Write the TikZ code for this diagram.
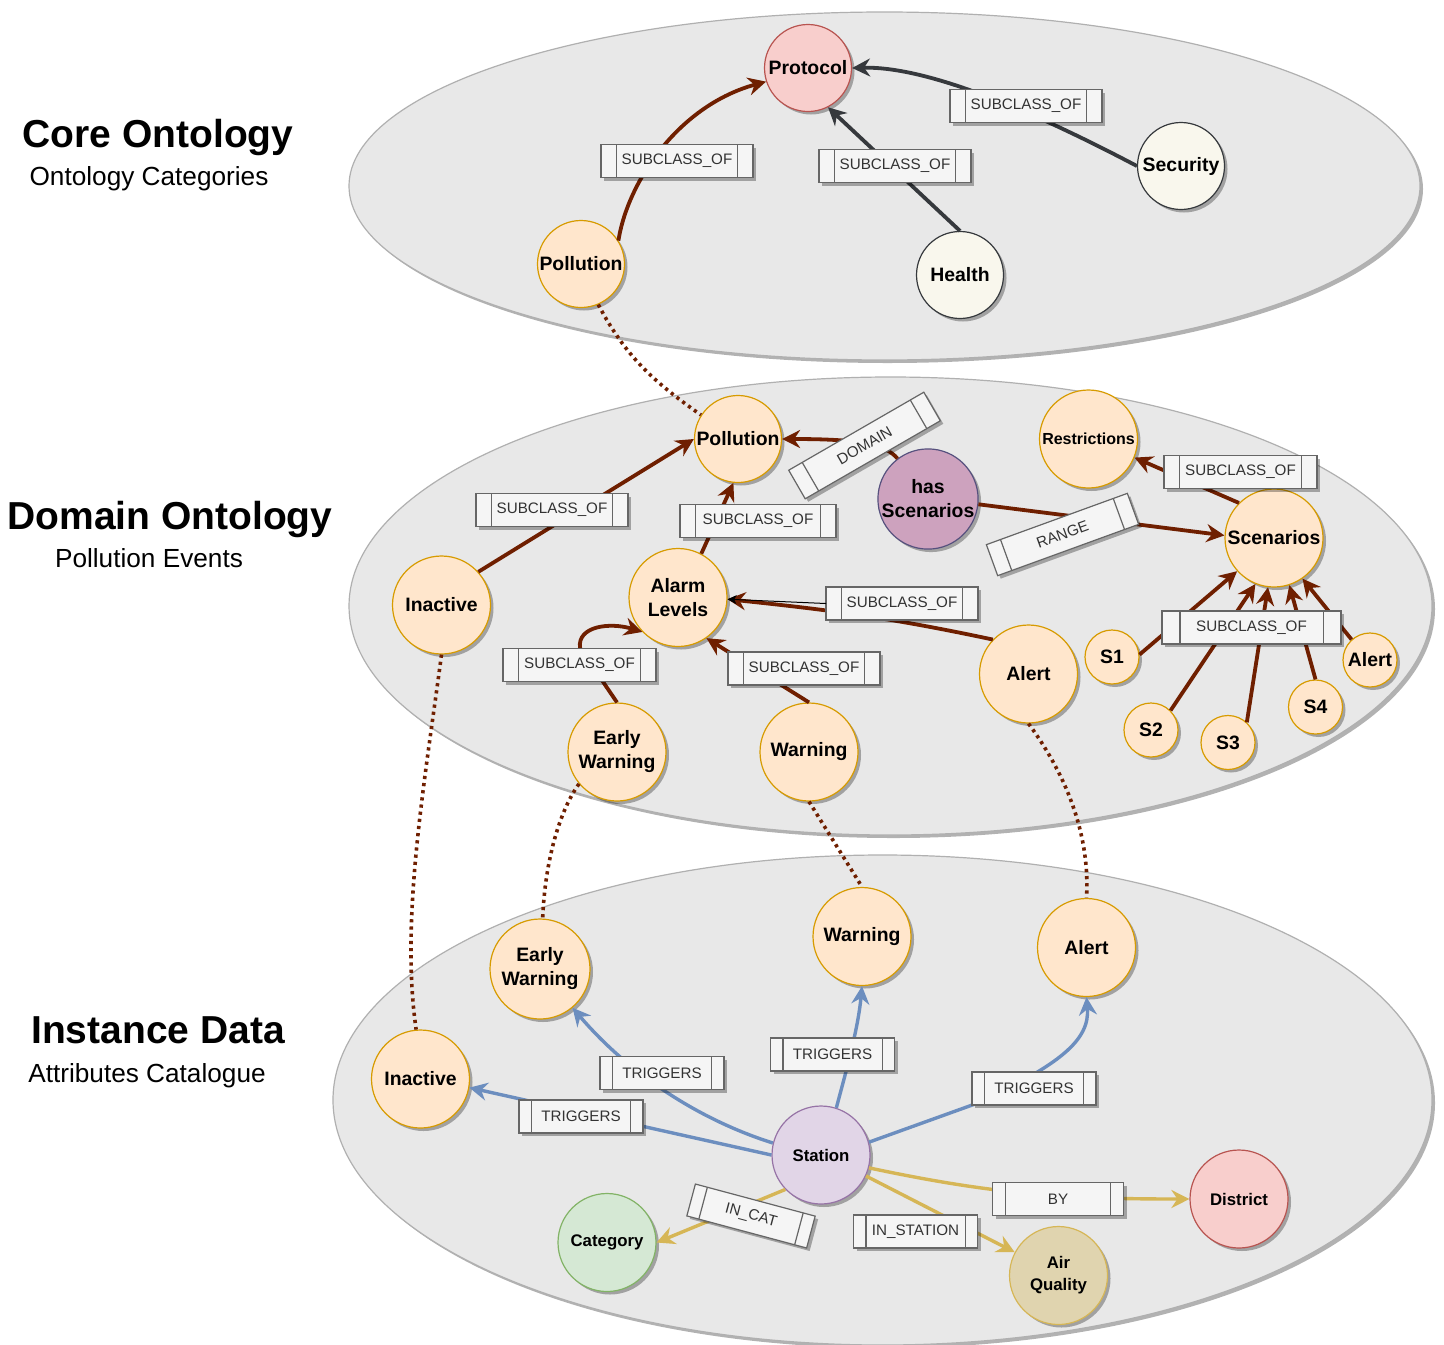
\documentclass[tikz,border=0pt]{standalone}
\usepackage{fontspec}
\setmainfont{Liberation Sans}
\usetikzlibrary{arrows.meta,shadows,calc}
\definecolor{ellfill}{HTML}{E8E8E8}
\definecolor{elldraw}{HTML}{B0B0B0}
\definecolor{orfill}{HTML}{FFE6CC}
\definecolor{ordraw}{HTML}{D79B00}
\definecolor{redfill}{HTML}{F8CECC}
\definecolor{reddraw}{HTML}{B85450}
\definecolor{crfill}{HTML}{F9F7ED}
\definecolor{crdraw}{HTML}{36393D}
\definecolor{pufill}{HTML}{CDA2BE}
\definecolor{pudraw}{HTML}{56517E}
\definecolor{lpfill}{HTML}{E1D5E7}
\definecolor{lpdraw}{HTML}{9673A6}
\definecolor{grfill}{HTML}{D5E8D4}
\definecolor{grdraw}{HTML}{82B366}
\definecolor{tnfill}{HTML}{E0D4AF}
\definecolor{yedraw}{HTML}{D6B656}
\definecolor{edgebrown}{HTML}{6F1F00}
\definecolor{edgeblue}{HTML}{6C8EBF}
\definecolor{edgegray}{HTML}{36393D}
\definecolor{lblfill}{HTML}{F5F5F5}
\definecolor{lbldraw}{HTML}{666666}
\definecolor{lbltext}{HTML}{333333}
\tikzset{
  shad/.style={drop shadow={shadow xshift=1.5pt,shadow yshift=-1.5pt,opacity=0.3,fill=black}},
  layerell/.style={fill=ellfill,draw=elldraw,line width=0.6pt,shad},
  cnode/.style={circle,line width=0.6pt,shad,inner sep=0pt,align=center,font=\fontsize{9.7}{12}\selectfont\bfseries},
  bignode/.style={cnode,minimum size=49pt},
  midnode/.style={cnode,minimum size=43.5pt},
  snode/.style={cnode,minimum size=27pt},
  orn/.style={fill=orfill,draw=ordraw},
  sfont/.style={font=\fontsize{8.4}{11}\selectfont\bfseries},
  lbl/.style={rectangle,fill=lblfill,draw=lbldraw,line width=0.6pt,shad,minimum height=16.5pt,inner sep=0pt,outer sep=0pt,text=lbltext,font=\fontsize{7.6}{9}\selectfont},
  lblline/.style={draw=lbldraw,line width=0.6pt},
  tip/.style={-{Stealth[length=9pt,width=9pt,inset=3pt]}},
  subedge/.style={line width=1.9pt,draw=edgebrown,tip},
  coreedge/.style={line width=1.9pt,draw=edgegray,tip},
  trig/.style={line width=1.7pt,draw=edgeblue,tip},
  attr/.style={line width=1.7pt,draw=yedraw,tip},
  link/.style={line width=1.8pt,draw=edgebrown,dash pattern=on 1.6pt off 2pt},
  thinarrow/.style={line width=0.5pt,draw=black,-{Stealth[length=4.5pt,width=4.5pt,inset=1.2pt]}},
  ttl/.style={font=\fontsize{19.5}{22}\selectfont\bfseries,anchor=base,inner sep=0pt},
  subttl/.style={font=\fontsize{13.1}{15}\selectfont,anchor=base,inner sep=0pt},
}
\newcommand{\lblbox}[5][0]{%
  \node[lbl,rotate=#1,minimum width=#4] (#2) at (#3) {#5};
  \draw[lblline] ($(#2.north west)!0.1!(#2.north east)$) -- ($(#2.south west)!0.1!(#2.south east)$);
  \draw[lblline] ($(#2.north west)!0.9!(#2.north east)$) -- ($(#2.south west)!0.9!(#2.south east)$);}
\begin{document}
\begin{tikzpicture}[x=0.5pt,y=-0.5pt]
\fill[white] (0,0) rectangle (1444,1344);
\useasboundingbox (0,0) rectangle (1444,1344);

% layers
\draw[layerell] (884.5,186) ellipse [x radius=535.5, y radius=174];
\draw[layerell] (890.5,606) ellipse [x radius=541.5, y radius=229];
\draw[layerell] (882.5,1100) ellipse [x radius=549.5, y radius=245];

% titles
\node[ttl] (t1) at (158,147) {Core Ontology};
\node[subttl] (s1t) at (149,185) {Ontology Categories};
\node[ttl] (t2) at (170,529) {Domain Ontology};
\node[subttl] (s2t) at (149,567) {Pollution Events};
\node[ttl] (t3) at (158,1043) {Instance Data};
\node[subttl] (s3t) at (147,1082) {Attributes Catalogue};

% core nodes
\node[midnode,fill=redfill,draw=reddraw] (prot) at (808,68) {Protocol};
\node[midnode,fill=crfill,draw=crdraw] (sec) at (1181,166) {Security};
\node[midnode,fill=crfill,draw=crdraw] (health) at (960,275) {Health};
\node[midnode,orn] (polT) at (581,264) {Pollution};

% domain nodes
\node[midnode,orn] (polM) at (738,439) {Pollution};
\node[bignode,fill=pufill,draw=pudraw] (hasS) at (928,499) {has\\Scenarios};
\node[bignode,orn,font=\fontsize{8}{10}\selectfont\bfseries] (restr) at (1088.5,439) {Restrictions};
\node[bignode,orn] (scen) at (1274,538) {Scenarios};
\node[bignode,orn] (inactM) at (441.5,605) {Inactive};
\node[bignode,orn] (alarm) at (678,597.5) {Alarm\\Levels};
\node[bignode,orn] (alertM) at (1028.5,674) {Alert};
\node[snode,orn] (s1) at (1112,657) {S1};
\node[snode,orn] (s2) at (1151,730) {S2};
\node[snode,orn] (s3) at (1228,742.5) {S3};
\node[snode,orn] (s4) at (1315.5,707) {S4};
\node[snode,orn] (alertS) at (1370,660) {Alert};
\node[bignode,orn] (ewM) at (617,752) {Early\\Warning};
\node[bignode,orn] (warnM) at (809,752) {Warning};

% instance nodes
\node[bignode,orn,minimum height=50pt] (ewB) at (540,969) {Early\\Warning};
\node[bignode,orn] (warnB) at (862,936.5) {Warning};
\node[bignode,orn] (alertB) at (1086.5,947.5) {Alert};
\node[bignode,orn] (inactB) at (420.5,1079) {Inactive};
\node[bignode,fill=lpfill,draw=lpdraw,sfont] (station) at (821,1155) {Station};
\node[bignode,fill=grfill,draw=grdraw,sfont] (category) at (607,1242.5) {Category};
\node[bignode,fill=tnfill,draw=yedraw,sfont] (airq) at (1058.5,1275.5) {Air\\Quality};
\node[bignode,fill=redfill,draw=reddraw,sfont] (district) at (1239,1199) {District};

% core edges
\draw[subedge] (polT.32) .. controls (628,180) and (680,105) .. (prot.198);
\draw[coreedge] (health.north) -- (prot.297);
\draw[coreedge] (sec.west) .. controls (1040,115) and (930,66) .. (prot.east);

% domain edges
\draw[subedge] (inactM.42) -- (polM.west);
\draw[subedge] (alarm.62) -- (polM.264);
\draw[subedge] (hasS.127) .. controls (885,444) and (860,439) .. (polM.east);
\draw[subedge] (hasS.354) -- (scen.177);
\draw[subedge] (scen.135) -- (restr.338);
\draw[subedge] (alertM.136) to[out=168,in=-6] (alarm.358);
\draw[subedge] (ewM.north) -- (580,648) .. controls (577,626) and (610,622) .. (alarm.224);
\draw[subedge] (warnM.north) -- (alarm.305);
\draw[subedge] (s1.5) -- (scen.222);
\draw[subedge] (s2.45) -- (scen.248);
\draw[subedge] (s3.47) -- (scen.263);
\draw[subedge] (s4.north) -- (scen.288);
\draw[subedge] (alertS.132) -- (scen.305);

% dotted links between layers
\draw[link] (polT.293) to[out=-62,in=145] (polM.147);
\draw[link] (inactM.south) .. controls (425,780) and (400,920) .. (inactB.95);
\draw[link] (ewM.220) .. controls (560,810) and (545,860) .. (ewB.87);
\draw[link] (warnM.south) -- (warnB.north);
\draw[link] (alertM.south) .. controls (1070,780) and (1090,840) .. (alertB.north);

% instance edges
\draw[trig] (station.166) .. controls (700,1120) and (630,1075) .. (ewB.310);
\draw[trig] (station.west) -- (inactB.350);
\draw[trig] (station.72) .. controls (845,1075) and (858,1030) .. (warnB.south);
\draw[trig] (station.15) -- (975,1104) .. controls (1060,1065) and (1090,1040) .. (alertB.south);
\draw[attr] (station.224) -- (category.east);
\draw[attr] (station.335) -- (airq.152);
\draw[attr] (station.345) to[out=-12,in=180] (district.west);

% edge labels
\lblbox{lT1}{677,161}{76pt}{SUBCLASS\_OF}
\lblbox{lT2}{895,166}{76pt}{SUBCLASS\_OF}
\lblbox{lT3}{1026,106}{76pt}{SUBCLASS\_OF}
\lblbox{lM1}{552,510}{76pt}{SUBCLASS\_OF}
\lblbox{lM2}{758,521}{78pt}{SUBCLASS\_OF}
\lblbox[30]{lDom}{864.5,445.5}{78pt}{DOMAIN}
\lblbox[20]{lRange}{1062.5,534.5}{75pt}{RANGE}
\lblbox{lM3}{1240.5,472}{76.5pt}{SUBCLASS\_OF}
\lblbox{lM4}{902,603.5}{76pt}{SUBCLASS\_OF}
\lblbox{lM5}{579.5,665}{76.5pt}{SUBCLASS\_OF}
\lblbox{lM6}{804,668.5}{76pt}{SUBCLASS\_OF}
\lblbox{lM7}{1251.5,627.5}{89.5pt}{SUBCLASS\_OF}
\lblbox{lB1}{662,1073}{62pt}{TRIGGERS}
\lblbox{lB2}{832.5,1054.5}{62pt}{TRIGGERS}
\lblbox{lB3}{1034,1088.5}{62pt}{TRIGGERS}
\lblbox{lB4}{581,1116.5}{62pt}{TRIGGERS}
\lblbox[-15]{lCat}{751,1216}{62pt}{IN\_CAT}
\lblbox{lInst}{915.5,1231.5}{62pt}{IN\_STATION}
\lblbox{lBy}{1058,1199}{65.5pt}{BY}

\draw[thinarrow] (lM4.west) -- (alarm.358);
\end{tikzpicture}
\end{document}
